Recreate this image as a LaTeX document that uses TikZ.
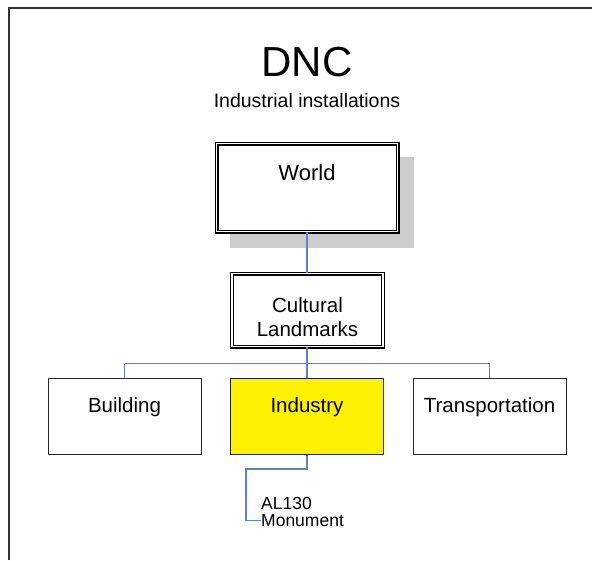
\documentclass[tikz,border=0pt]{standalone}
\usepackage{fontspec}
\setmainfont{Liberation Sans}
\definecolor{linkblue}{HTML}{5B84C4}
\begin{document}
\begin{tikzpicture}[x=1pt,y=-1pt,
  frame/.style={draw=black!80,line width=1.5pt},
  unitbox/.style={draw=black!85,line width=1pt,rectangle,inner sep=0pt,minimum width=153pt,minimum height=76pt},
  dblbox/.style={draw=black,line width=1.1pt,double=white,double distance=1.8pt,rectangle,inner sep=0pt},
  link/.style={draw=linkblue,line width=1.1pt},
  boxtext/.style={inner sep=0pt,anchor=base,font=\fontsize{20.5}{24}\selectfont},
]
\path[use as bounding box] (0,0) rectangle (592,560);
\fill[white] (0,0) rectangle (592,560);
% outer frame, open to the right and bottom
\draw[frame] (9,560) -- (9,8) -- (592,8);

% heading
\node[inner sep=0pt,anchor=base,font=\fontsize{42}{48}\selectfont] (title) at (307,76) {DNC};
\node[inner sep=0pt,anchor=base,font=\fontsize{19.5}{23}\selectfont] (subtitle) at (307,107) {Industrial installations};

% top level with drop shadow
\fill[black!20] (230,157) rectangle (414,248);
\node[dblbox,fill=white,minimum width=181pt,minimum height=88pt] (world) at (307,187.5) {};
\node[boxtext,font=\fontsize{22}{26}\selectfont] (worldtxt) at (307,180) {World};

% second level
\node[dblbox,fill=white,minimum width=151pt,minimum height=73pt] (cultural) at (307.5,310) {};
\node[boxtext,align=center] (culturaltxt) at (307.5,336) {Cultural\\Landmarks};

% third level
\node[unitbox] (building) at (124.5,416.5) {};
\node[unitbox,fill=yellow] (industry) at (307,416.5) {};
\node[unitbox] (transport) at (489.5,416.5) {};
\node[boxtext] (buildingtxt) at (124.5,412) {Building};
\node[boxtext] (industrytxt) at (307,412) {Industry};
\node[boxtext] (transporttxt) at (489.5,412) {Transportation};

% leaf entries
\node[inner sep=0pt,anchor=base west,font=\fontsize{17.5}{18}\selectfont] (al) at (261,509) {AL130};
\node[inner sep=0pt,anchor=base west,font=\fontsize{17.5}{18}\selectfont] (mon) at (261,526) {Monument};

% connectors
\coordinate (bus) at (307,363.5);
\draw[link] (world.south) -- (world.south |- cultural.north);
\draw[link] (world.south |- cultural.south) -- (bus);
\draw[link] (bus -| building.north) -- (bus -| transport.north);
\draw[link] (bus -| building.north) -- (building.north);
\draw[link] (bus) -- (industry.north);
\draw[link] (bus -| transport.north) -- (transport.north);
\coordinate (elbow) at (307,469);
\coordinate (leafx) at (246,469);
\draw[link] (industry.south) -- (elbow) -- (leafx) |- (mon.west);
\end{tikzpicture}
\end{document}
